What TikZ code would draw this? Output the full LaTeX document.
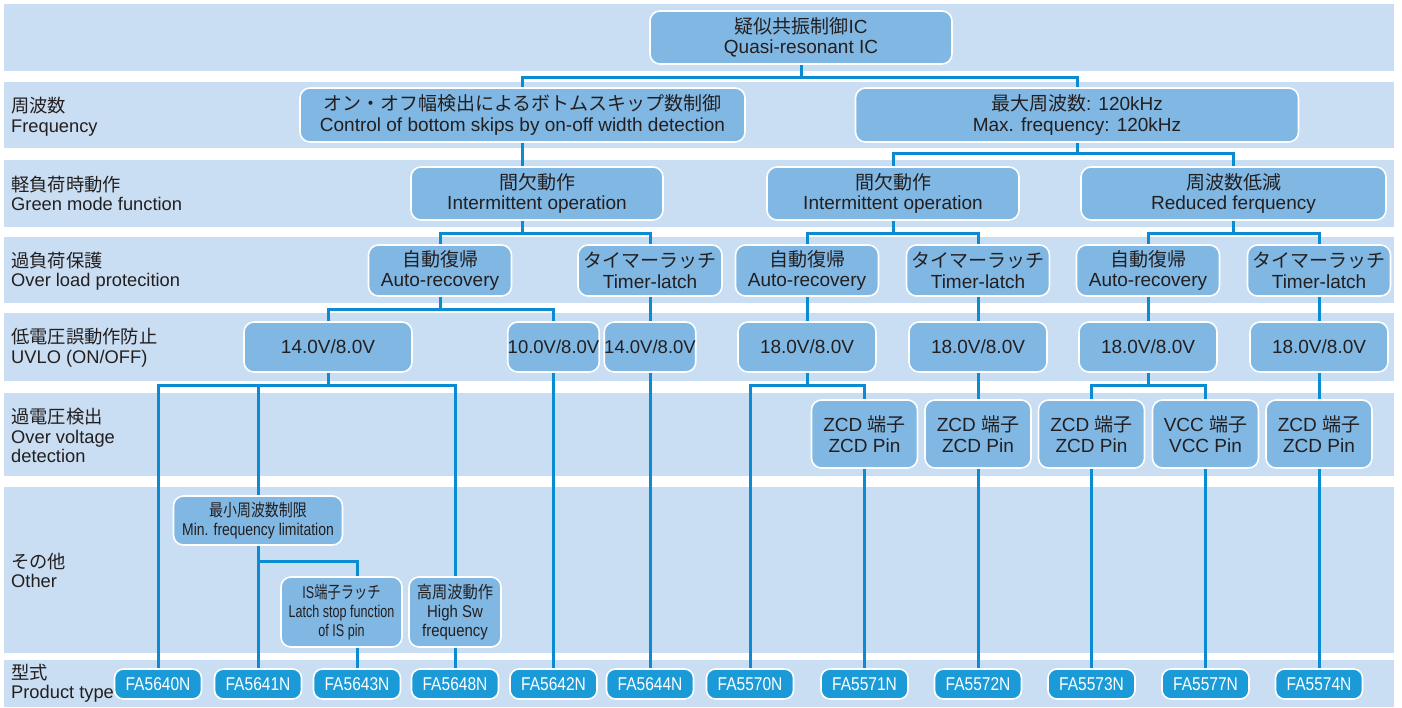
\documentclass[tikz,border=0pt]{standalone}
\usepackage{fontspec}
\setmainfont{Liberation Sans}
\newfontfamily\jpfont{Noto Sans CJK JP}
\usetikzlibrary{calc}
\pgfdeclarelayer{bands}
\pgfdeclarelayer{lines}
\pgfsetlayers{bands,lines,main}
\definecolor{bandblue}{HTML}{C9DEF2}
\definecolor{boxblue}{HTML}{80B7E3}
\definecolor{connblue}{HTML}{0A8BD2}
\definecolor{fablue}{HTML}{1A9BD7}
\definecolor{txtgray}{HTML}{231F20}
\newcommand\jp[1]{{\jpfont #1}}
\newcommand\jpn[2]{{\jpfont\addfontfeatures{FakeStretch=#1}#2}}
\newcommand\latn[2]{{\addfontfeatures{FakeStretch=#1}#2}}
\tikzset{
  box/.style={rounded corners=10pt, draw=white, line width=1.6pt, fill=boxblue,
    text=txtgray, align=center, inner sep=0pt,
    font=\fontsize{19}{20.5}\selectfont},
  obox/.style={box, font=\fontsize{17}{19}\selectfont},
  fabox/.style={rounded corners=9pt, draw=white, line width=1.6pt, fill=fablue,
    text=white, align=center, inner sep=0pt, minimum width=87pt, minimum height=30pt,
    font=\fontsize{18.5}{20}\selectfont\addfontfeatures{FakeStretch=0.84}},
  lbl/.style={anchor=west, align=left, inner sep=0pt, text=txtgray,
    font=\fontsize{18.3}{19.5}\selectfont},
  conn/.style={draw=connblue, line width=3pt},
  band/.style={fill=bandblue}
}
\begin{document}
\begin{tikzpicture}[x=1pt,y=-1pt]
\useasboundingbox (0,0) rectangle (1402,707);
\begin{pgfonlayer}{bands}
\fill[white] (0,0) rectangle (1402,707);
\fill[band] (4,4) rectangle (1394,70.5);
\fill[band] (4,82) rectangle (1394,148);
\fill[band] (4,160) rectangle (1394,227);
\fill[band] (4,237) rectangle (1394,303);
\fill[band] (4,313) rectangle (1394,381);
\fill[band] (4,393) rectangle (1394,476);
\fill[band] (4,487) rectangle (1394,653);
\fill[band] (4,660) rectangle (1394,707);
\end{pgfonlayer}

% row labels
\node[lbl] (l1) at (11,116.5) {\jp{周波数}\\Frequency};
\node[lbl] (l2) at (11,193.5) {\jp{軽負荷時動作}\\Green mode function};
\node[lbl] (l3) at (11,271) {\jp{過負荷保護}\\Over load protecition};
\node[lbl] (l4) at (11,347.5) {\jp{低電圧誤動作防止}\\UVLO (ON/OFF)};
\node[lbl] (l5) at (11,435.5) {\jp{過電圧検出}\\Over voltage\\detection};
\node[lbl] (l6) at (11,570.5) {\jp{その他}\\Other};
\node[lbl] (l7) at (11,683) {\jp{型式}\\Product type};

% top
\node[box, minimum width=302pt, minimum height=53pt] (top) at (801,37.5) {\jp{疑似共振制御}IC\\Quasi-resonant IC};
% frequency
\node[box, minimum width=445pt, minimum height=54pt] (b1L) at (522.5,115) {\jp{オン・オフ幅検出によるボトムスキップ数制御}\\Control of bottom skips by on-off width detection};
\node[box, minimum width=443pt, minimum height=54pt] (b1R) at (1077,115) {\jp{最大周波数}: 120kHz\\Max. frequency: 120kHz};
% green mode
\node[box, minimum width=252pt, minimum height=53pt] (gA) at (537,193.5) {\jp{間欠動作}\\Intermittent operation};
\node[box, minimum width=252pt, minimum height=53pt] (gB) at (893,193.5) {\jp{間欠動作}\\Intermittent operation};
\node[box, minimum width=305pt, minimum height=53pt] (gC) at (1233.5,193.5) {\jp{周波数低減}\\Reduced ferquency};
% over load
\node[box, minimum width=143pt, minimum height=51pt] (AR1) at (440,270.5) {\jp{自動復帰}\\Auto-recovery};
\node[box, minimum width=144pt, minimum height=51pt] (TL1) at (650,270.5) {\jp{タイマーラッチ}\\Timer-latch};
\node[box, minimum width=143pt, minimum height=51pt] (AR2) at (807,270.5) {\jp{自動復帰}\\Auto-recovery};
\node[box, minimum width=143pt, minimum height=51pt] (TL2) at (978,270.5) {\jp{タイマーラッチ}\\Timer-latch};
\node[box, minimum width=143pt, minimum height=51pt] (AR3) at (1148,270.5) {\jp{自動復帰}\\Auto-recovery};
\node[box, minimum width=143pt, minimum height=51pt] (TL3) at (1319,270.5) {\jp{タイマーラッチ}\\Timer-latch};
% UVLO
\node[box, minimum width=168pt, minimum height=50pt] (u1) at (328,347) {14.0V/8.0V};
\node[box, minimum width=90pt, minimum height=50pt, font=\fontsize{18.5}{20}\selectfont] (u2) at (553.5,347) {10.0V/8.0V};
\node[box, minimum width=90pt, minimum height=50pt, font=\fontsize{18.5}{20}\selectfont] (u3) at (650,347) {14.0V/8.0V};
\node[box, minimum width=138pt, minimum height=50pt] (u4) at (807,347) {18.0V/8.0V};
\node[box, minimum width=138pt, minimum height=50pt] (u5) at (978,347) {18.0V/8.0V};
\node[box, minimum width=138pt, minimum height=50pt] (u6) at (1148,347) {18.0V/8.0V};
\node[box, minimum width=138pt, minimum height=50pt] (u7) at (1319,347) {18.0V/8.0V};
% over voltage
\node[box, minimum width=106pt, minimum height=68pt] (z1) at (864.5,434) {ZCD \jp{端子}\\ZCD Pin};
\node[box, minimum width=106pt, minimum height=68pt] (z2) at (978,434) {ZCD \jp{端子}\\ZCD Pin};
\node[box, minimum width=106pt, minimum height=68pt] (z3) at (1091.5,434) {ZCD \jp{端子}\\ZCD Pin};
\node[box, minimum width=106pt, minimum height=68pt] (z4) at (1205.5,434) {VCC \jp{端子}\\VCC Pin};
\node[box, minimum width=106pt, minimum height=68pt] (z5) at (1319,434) {ZCD \jp{端子}\\ZCD Pin};
% other
\node[obox, minimum width=169pt, minimum height=49pt] (minf) at (258,520.5) {\jpn{0.82}{最小周波数制限}\\\latn{0.82}{Min. frequency limitation}};
\node[obox, minimum width=121pt, minimum height=70pt] (isb) at (341.5,612) {\latn{0.74}{IS}\jpn{0.78}{端子ラッチ}\\\latn{0.74}{Latch stop function}\\\latn{0.74}{of IS pin}};
\node[obox, minimum width=92pt, minimum height=70pt] (hisw) at (455,612) {\jpn{0.9}{高周波動作}\\\latn{0.88}{High Sw}\\\latn{0.88}{frequency}};
% product type
\node[fabox] (fa40) at (158,684) {FA5640N};
\node[fabox] (fa41) at (258,684) {FA5641N};
\node[fabox] (fa43) at (357,684) {FA5643N};
\node[fabox] (fa48) at (455,684) {FA5648N};
\node[fabox] (fa42) at (553.5,684) {FA5642N};
\node[fabox] (fa44) at (650,684) {FA5644N};
\node[fabox] (fa70) at (750,684) {FA5570N};
\node[fabox] (fa71) at (864.5,684) {FA5571N};
\node[fabox] (fa72) at (978,684) {FA5572N};
\node[fabox] (fa73) at (1091.5,684) {FA5573N};
\node[fabox] (fa77) at (1205.5,684) {FA5577N};
\node[fabox] (fa74) at (1319,684) {FA5574N};

% level helpers
\coordinate (ya) at (0,77);
\coordinate (yb) at (0,153);
\coordinate (yc) at (0,233);
\coordinate (yd) at (0,309);
\coordinate (ye) at (0,385);
\coordinate (yf) at (0,561);

\begin{pgfonlayer}{lines}
\draw[conn] (top) -- (top |- ya);
\draw[conn] (b1L) |- (top |- ya) -| (b1R);
\draw[conn] (b1L) -- (b1L |- yc);
\draw[conn] (AR1) |- (b1L |- yc) -| (TL1);
\draw[conn] (b1R) -- (b1R |- yb);
\draw[conn] (gB) |- (b1R |- yb) -| (gC);
\draw[conn] (gB) -- (gB |- yc);
\draw[conn] (AR2) |- (gB |- yc) -| (TL2);
\draw[conn] (gC) -- (gC |- yc);
\draw[conn] (AR3) |- (gC |- yc) -| (TL3);
\draw[conn] (AR1) -- (AR1 |- yd);
\draw[conn] (u1) |- (AR1 |- yd) -| (u2);
\draw[conn] (TL1) -- (u3);
\draw[conn] (AR2) -- (u4);
\draw[conn] (TL2) -- (u5);
\draw[conn] (AR3) -- (u6);
\draw[conn] (TL3) -- (u7);
\draw[conn] (u1) -- (u1 |- ye);
\draw[conn] (fa40) |- (u1 |- ye) -| (hisw);
\draw[conn] (minf) -- (minf |- ye);
\draw[conn] (minf) -- (fa41);
\draw[conn] (minf |- yf) -| (fa43);
\draw[conn] (hisw) -- (fa48);
\draw[conn] (u2) -- (fa42);
\draw[conn] (u3) -- (fa44);
\draw[conn] (u4) -- (u4 |- ye);
\draw[conn] (fa70) |- (u4 |- ye) -| (z1);
\draw[conn] (z1) -- (fa71);
\draw[conn] (u5) -- (z2);
\draw[conn] (z2) -- (fa72);
\draw[conn] (u6) -- (u6 |- ye);
\draw[conn] (z3) |- (u6 |- ye) -| (z4);
\draw[conn] (z3) -- (fa73);
\draw[conn] (z4) -- (fa77);
\draw[conn] (u7) -- (z5);
\draw[conn] (z5) -- (fa74);
\end{pgfonlayer}
\end{tikzpicture}
\end{document}
